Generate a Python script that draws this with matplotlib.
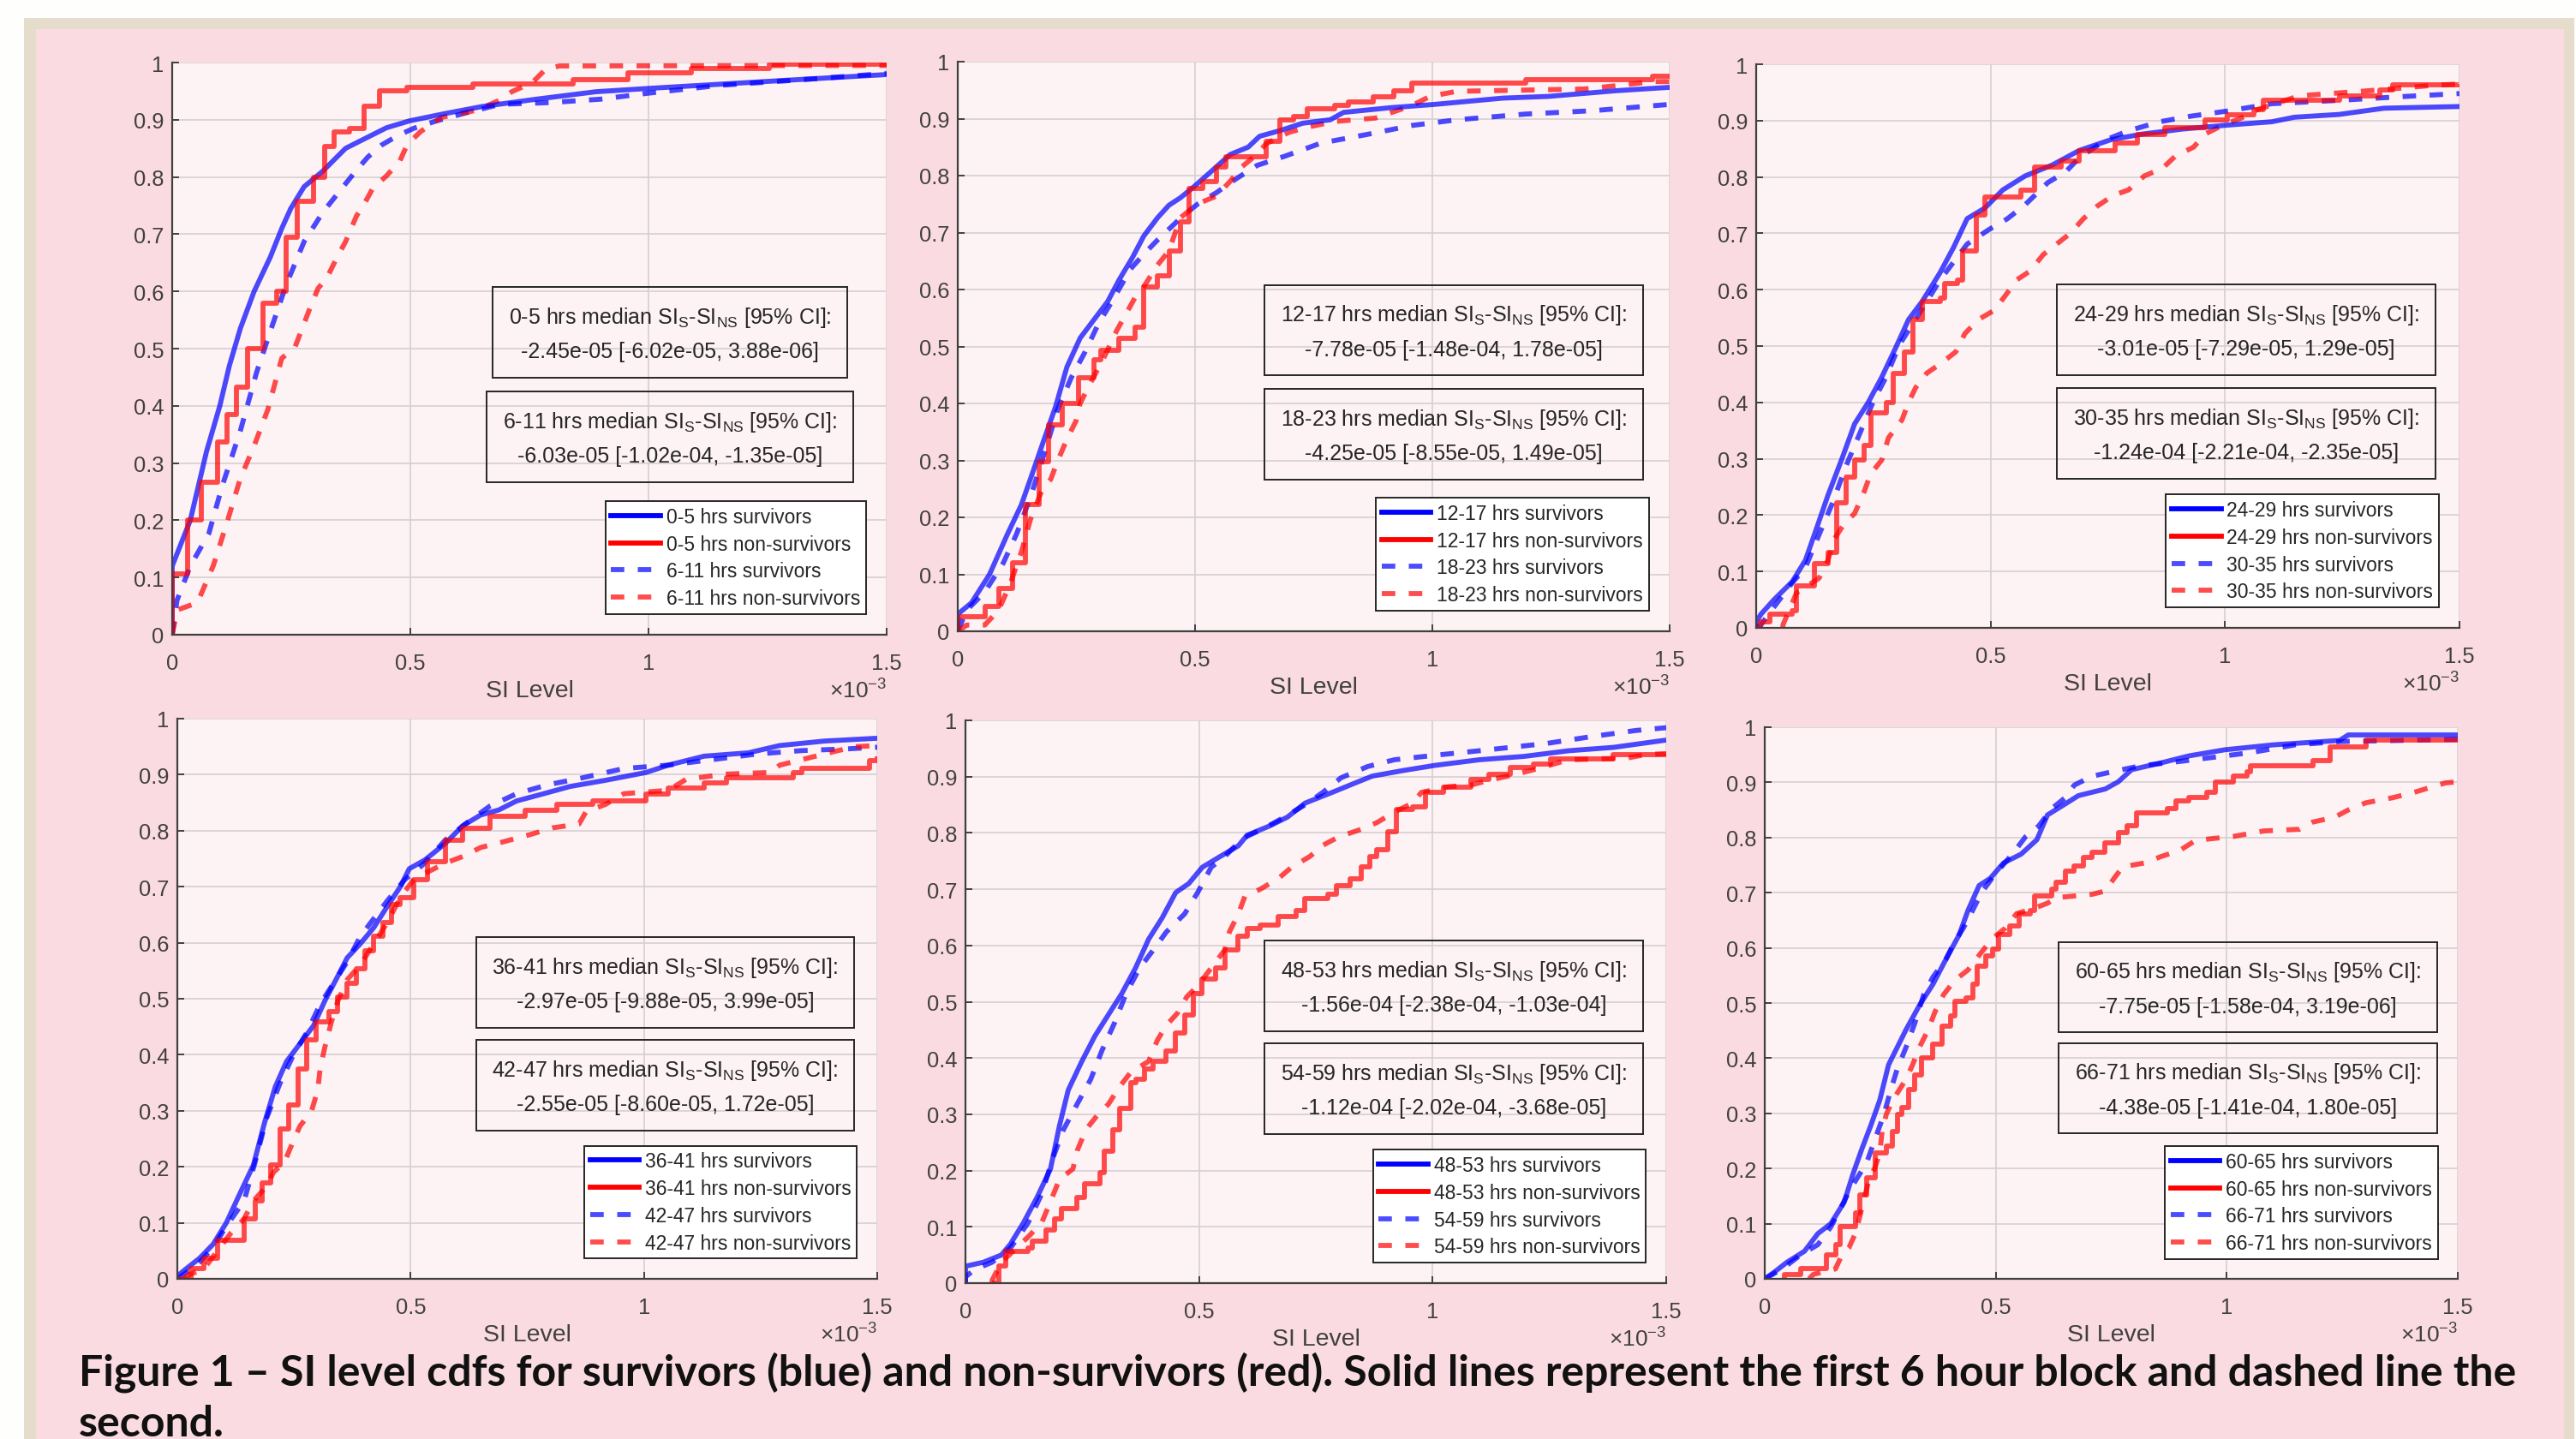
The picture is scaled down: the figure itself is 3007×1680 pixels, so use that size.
import matplotlib.pyplot as plt
from matplotlib.lines import Line2D
from matplotlib.patches import Rectangle

plt.rcParams['font.family'] = ['Liberation Sans', 'DejaVu Sans']
plt.rcParams['mathtext.fontset'] = 'custom'
plt.rcParams['mathtext.rm'] = 'Liberation Sans'
plt.rcParams['mathtext.it'] = 'Liberation Sans:italic'
plt.rcParams['mathtext.bf'] = 'Liberation Sans:bold'

# hour blocks shown in each panel (first block solid, second block dashed)
blocks = [("0-5", "6-11"), ("12-17", "18-23"), ("24-29", "30-35"),
          ("36-41", "42-47"), ("48-53", "54-59"), ("60-65", "66-71")]

# median SI_S - SI_NS [95% CI]
stat_first = ["-2.45e-05 [-6.02e-05, 3.88e-06]", "-7.78e-05 [-1.48e-04, 1.78e-05]",
              "-3.01e-05 [-7.29e-05, 1.29e-05]", "-2.97e-05 [-9.88e-05, 3.99e-05]",
              "-1.56e-04 [-2.38e-04, -1.03e-04]", "-7.75e-05 [-1.58e-04, 3.19e-06]"]
stat_second = ["-6.03e-05 [-1.02e-04, -1.35e-05]", "-4.25e-05 [-8.55e-05, 1.49e-05]",
               "-1.24e-04 [-2.21e-04, -2.35e-05]", "-2.55e-05 [-8.60e-05, 1.72e-05]",
               "-1.12e-04 [-2.02e-04, -3.68e-05]", "-4.38e-05 [-1.41e-04, 1.80e-05]"]

# cdf curves: (SI level x 1e-3, cumulative fraction)
p1_surv1 = [(0, 0), (0, 0.12), (0.038, 0.20), (0.072, 0.32), (0.10, 0.40), (0.12, 0.47), (0.143, 0.535),
            (0.172, 0.60), (0.206, 0.66), (0.23, 0.71), (0.249, 0.745), (0.277, 0.783), (0.316, 0.81),
            (0.364, 0.85), (0.402, 0.866), (0.45, 0.886), (0.498, 0.898), (0.574, 0.911), (0.65, 0.923),
            (0.765, 0.936), (0.89, 0.949), (1.005, 0.955), (1.148, 0.962), (1.29, 0.969), (1.5, 0.979)]
p1_nons1 = [(0, 0), (0, 0.107), (0.033, 0.20), (0.062, 0.267), (0.096, 0.337), (0.115, 0.385),
            (0.134, 0.432), (0.158, 0.50), (0.191, 0.58), (0.22, 0.60), (0.239, 0.694), (0.263, 0.758),
            (0.297, 0.80), (0.32, 0.853), (0.34, 0.879), (0.373, 0.885), (0.402, 0.923), (0.435, 0.951),
            (0.493, 0.957), (0.631, 0.962), (0.842, 0.97), (0.957, 0.982), (1.09, 0.99), (1.253, 0.997),
            (1.5, 0.997)]
p1_surv2 = [(0, 0), (0.01, 0.06), (0.038, 0.12), (0.077, 0.177), (0.105, 0.26), (0.143, 0.356),
            (0.177, 0.458), (0.21, 0.54), (0.239, 0.611), (0.277, 0.687), (0.316, 0.738), (0.359, 0.783),
            (0.387, 0.812), (0.411, 0.835), (0.44, 0.856), (0.473, 0.872), (0.507, 0.885), (0.555, 0.898),
            (0.612, 0.911), (0.689, 0.927), (0.794, 0.93), (0.9, 0.936), (0.995, 0.946), (1.148, 0.96),
            (1.339, 0.971), (1.5, 0.981)]
p1_nons2 = [(0, 0), (0.01, 0.043), (0.053, 0.056), (0.086, 0.12), (0.115, 0.196), (0.143, 0.273),
            (0.172, 0.33), (0.201, 0.394), (0.23, 0.483), (0.258, 0.503), (0.287, 0.566), (0.306, 0.605),
            (0.325, 0.624), (0.344, 0.656), (0.364, 0.687), (0.387, 0.732), (0.402, 0.751), (0.421, 0.78),
            (0.45, 0.802), (0.478, 0.828), (0.493, 0.856), (0.521, 0.879), (0.565, 0.904), (0.641, 0.917),
            (0.684, 0.933), (0.713, 0.949), (0.756, 0.965), (0.785, 0.989), (0.813, 0.994), (1.5, 0.995)]

p2_surv1 = [(0, 0), (0, 0.03), (0.029, 0.05), (0.067, 0.10), (0.105, 0.171), (0.134, 0.222), (0.158, 0.279),
            (0.182, 0.337), (0.206, 0.394), (0.23, 0.464), (0.258, 0.515), (0.287, 0.547), (0.316, 0.579),
            (0.34, 0.617), (0.368, 0.656), (0.392, 0.694), (0.421, 0.726), (0.445, 0.748), (0.469, 0.761),
            (0.497, 0.78), (0.531, 0.805), (0.574, 0.837), (0.612, 0.85), (0.636, 0.869), (0.679, 0.879),
            (0.727, 0.892), (0.785, 0.898), (0.813, 0.911), (0.909, 0.919), (1.005, 0.925), (1.148, 0.936),
            (1.244, 0.939), (1.387, 0.949), (1.5, 0.955)]
p2_nons1 = [(0, 0), (0, 0.025), (0.057, 0.043), (0.086, 0.075), (0.115, 0.12), (0.143, 0.222),
            (0.172, 0.298), (0.191, 0.362), (0.22, 0.40), (0.254, 0.445), (0.287, 0.477), (0.301, 0.493),
            (0.34, 0.515), (0.373, 0.534), (0.392, 0.605), (0.421, 0.624), (0.445, 0.668), (0.469, 0.719),
            (0.488, 0.777), (0.517, 0.79), (0.545, 0.815), (0.565, 0.833), (0.65, 0.86), (0.679, 0.898),
            (0.708, 0.904), (0.737, 0.917), (0.794, 0.923), (0.823, 0.93), (0.875, 0.939), (0.918, 0.949),
            (0.957, 0.962), (1.196, 0.969), (1.464, 0.974), (1.5, 0.974)]
p2_surv2 = [(0, 0), (0.019, 0.037), (0.057, 0.069), (0.096, 0.12), (0.124, 0.171), (0.153, 0.235),
            (0.182, 0.311), (0.21, 0.388), (0.239, 0.445), (0.268, 0.49), (0.297, 0.541), (0.325, 0.579),
            (0.364, 0.636), (0.392, 0.662), (0.421, 0.687), (0.45, 0.71), (0.478, 0.732), (0.507, 0.751),
            (0.545, 0.77), (0.584, 0.793), (0.631, 0.818), (0.689, 0.834), (0.765, 0.857), (0.861, 0.872),
            (0.957, 0.888), (1.052, 0.898), (1.196, 0.908), (1.339, 0.914), (1.5, 0.925)]
p2_nons2 = [(0, 0), (0.019, 0.011), (0.057, 0.011), (0.086, 0.037), (0.11, 0.082), (0.134, 0.139),
            (0.153, 0.196), (0.177, 0.247), (0.196, 0.267), (0.21, 0.298), (0.23, 0.337), (0.249, 0.369),
            (0.258, 0.40), (0.277, 0.432), (0.306, 0.477), (0.335, 0.528), (0.373, 0.585), (0.392, 0.605),
            (0.421, 0.643), (0.445, 0.668), (0.469, 0.726), (0.507, 0.751), (0.545, 0.764), (0.574, 0.79),
            (0.598, 0.815), (0.627, 0.835), (0.65, 0.856), (0.698, 0.876), (0.737, 0.885), (0.794, 0.895),
            (0.88, 0.901), (0.957, 0.923), (0.995, 0.939), (1.052, 0.948), (1.32, 0.952), (1.378, 0.957),
            (1.464, 0.965), (1.5, 0.965)]

p3_surv1 = [(0, 0), (0, 0.01), (0.01, 0.024), (0.038, 0.05), (0.077, 0.082), (0.105, 0.12), (0.129, 0.177),
            (0.153, 0.235), (0.182, 0.298), (0.21, 0.362), (0.239, 0.40), (0.268, 0.445), (0.297, 0.496),
            (0.325, 0.547), (0.354, 0.579), (0.392, 0.63), (0.421, 0.675), (0.45, 0.726), (0.488, 0.745),
            (0.526, 0.777), (0.574, 0.802), (0.631, 0.821), (0.689, 0.847), (0.756, 0.866), (0.823, 0.876),
            (0.909, 0.885), (1.005, 0.892), (1.1, 0.898), (1.148, 0.906), (1.244, 0.911), (1.339, 0.922),
            (1.5, 0.925)]
p3_nons1 = [(0, 0), (0.01, 0.011), (0.029, 0.024), (0.077, 0.03), (0.086, 0.075), (0.124, 0.114),
            (0.153, 0.133), (0.172, 0.222), (0.191, 0.267), (0.21, 0.298), (0.23, 0.324), (0.244, 0.381),
            (0.277, 0.40), (0.292, 0.452), (0.316, 0.49), (0.335, 0.547), (0.354, 0.579), (0.392, 0.585),
            (0.402, 0.611), (0.43, 0.617), (0.44, 0.668), (0.469, 0.732), (0.488, 0.764), (0.545, 0.764),
            (0.565, 0.777), (0.593, 0.818), (0.65, 0.828), (0.689, 0.847), (0.765, 0.86), (0.813, 0.876),
            (0.871, 0.888), (0.957, 0.901), (1.005, 0.911), (1.062, 0.92), (1.081, 0.936), (1.244, 0.944),
            (1.33, 0.955), (1.358, 0.963), (1.5, 0.965)]
p3_surv2 = [(0, 0), (0.01, 0.005), (0.038, 0.037), (0.077, 0.08), (0.105, 0.107), (0.134, 0.165),
            (0.163, 0.222), (0.191, 0.286), (0.22, 0.343), (0.249, 0.40), (0.277, 0.445), (0.306, 0.503),
            (0.335, 0.541), (0.364, 0.579), (0.392, 0.617), (0.421, 0.649), (0.45, 0.681), (0.497, 0.707),
            (0.536, 0.726), (0.574, 0.751), (0.622, 0.79), (0.66, 0.809), (0.689, 0.834), (0.746, 0.866),
            (0.794, 0.882), (0.861, 0.898), (0.928, 0.908), (1.005, 0.917), (1.1, 0.93), (1.244, 0.936),
            (1.387, 0.943), (1.5, 0.948)]
p3_nons2 = [(0.057, 0), (0.057, 0.005), (0.086, 0.062), (0.134, 0.088), (0.153, 0.12), (0.167, 0.158),
            (0.187, 0.184), (0.21, 0.203), (0.23, 0.241), (0.244, 0.273), (0.268, 0.298), (0.282, 0.337),
            (0.311, 0.369), (0.325, 0.40), (0.34, 0.426), (0.364, 0.452), (0.397, 0.471), (0.426, 0.49),
            (0.445, 0.522), (0.474, 0.547), (0.507, 0.563), (0.531, 0.589), (0.555, 0.617), (0.584, 0.633),
            (0.612, 0.662), (0.641, 0.681), (0.67, 0.70), (0.698, 0.726), (0.727, 0.748), (0.761, 0.767),
            (0.794, 0.777), (0.828, 0.802), (0.866, 0.815), (0.894, 0.837), (0.933, 0.853), (0.957, 0.876),
            (0.995, 0.892), (1.033, 0.904), (1.071, 0.92), (1.158, 0.944), (1.339, 0.955), (1.435, 0.962),
            (1.5, 0.965)]

p4_surv1 = [(0, 0), (0, 0.005), (0.019, 0.018), (0.048, 0.037), (0.077, 0.062), (0.105, 0.10),
            (0.134, 0.152), (0.163, 0.203), (0.187, 0.279), (0.21, 0.343), (0.234, 0.388), (0.263, 0.42),
            (0.292, 0.452), (0.316, 0.496), (0.34, 0.534), (0.364, 0.573), (0.392, 0.598), (0.421, 0.627),
            (0.45, 0.665), (0.478, 0.70), (0.497, 0.732), (0.531, 0.748), (0.574, 0.777), (0.612, 0.809),
            (0.65, 0.828), (0.689, 0.837), (0.727, 0.853), (0.785, 0.866), (0.842, 0.879), (0.918, 0.89),
            (1.005, 0.904), (1.052, 0.917), (1.129, 0.933), (1.224, 0.939), (1.291, 0.952), (1.387, 0.96),
            (1.5, 0.965)]
p4_nons1 = [(0, 0), (0.029, 0.018), (0.057, 0.037), (0.086, 0.069), (0.124, 0.069), (0.143, 0.107),
            (0.167, 0.139), (0.182, 0.171), (0.201, 0.203), (0.22, 0.267), (0.239, 0.311), (0.258, 0.375),
            (0.277, 0.426), (0.297, 0.458), (0.325, 0.477), (0.344, 0.503), (0.364, 0.528), (0.383, 0.554),
            (0.402, 0.585), (0.421, 0.611), (0.44, 0.636), (0.459, 0.668), (0.478, 0.681), (0.507, 0.713),
            (0.536, 0.745), (0.574, 0.783), (0.612, 0.805), (0.67, 0.825), (0.746, 0.837), (0.813, 0.847),
            (0.89, 0.853), (1.005, 0.866), (1.052, 0.876), (1.129, 0.885), (1.177, 0.895), (1.32, 0.904),
            (1.339, 0.911), (1.483, 0.925), (1.5, 0.933)]
p4_surv2 = [(0, 0), (0.019, 0.011), (0.048, 0.03), (0.077, 0.056), (0.105, 0.094), (0.143, 0.139),
            (0.167, 0.209), (0.191, 0.286), (0.22, 0.349), (0.249, 0.40), (0.277, 0.439), (0.306, 0.49),
            (0.335, 0.528), (0.364, 0.566), (0.392, 0.611), (0.421, 0.643), (0.45, 0.675), (0.488, 0.713),
            (0.526, 0.739), (0.574, 0.783), (0.622, 0.815), (0.67, 0.844), (0.727, 0.866), (0.794, 0.882),
            (0.861, 0.893), (0.957, 0.911), (1.052, 0.917), (1.148, 0.927), (1.244, 0.937), (1.339, 0.943),
            (1.435, 0.946), (1.5, 0.949)]
p4_nons2 = [(0.019, 0), (0.019, 0.005), (0.057, 0.018), (0.086, 0.05), (0.115, 0.082), (0.143, 0.107),
            (0.163, 0.139), (0.191, 0.165), (0.206, 0.19), (0.23, 0.209), (0.249, 0.247), (0.263, 0.273),
            (0.287, 0.298), (0.301, 0.337), (0.306, 0.375), (0.316, 0.413), (0.33, 0.458), (0.344, 0.496),
            (0.364, 0.534), (0.392, 0.56), (0.421, 0.598), (0.45, 0.636), (0.478, 0.681), (0.507, 0.713),
            (0.536, 0.726), (0.574, 0.742), (0.612, 0.754), (0.65, 0.77), (0.698, 0.78), (0.756, 0.793),
            (0.804, 0.805), (0.861, 0.812), (0.876, 0.834), (0.918, 0.847), (0.957, 0.866), (1.052, 0.872),
            (1.091, 0.892), (1.177, 0.901), (1.272, 0.904), (1.291, 0.917), (1.368, 0.933), (1.416, 0.943),
            (1.454, 0.95), (1.5, 0.952)]

p5_surv1 = [(0, 0), (0, 0.03), (0.038, 0.037), (0.077, 0.05), (0.096, 0.069), (0.124, 0.107),
            (0.153, 0.152), (0.182, 0.203), (0.201, 0.279), (0.22, 0.343), (0.249, 0.394), (0.277, 0.439),
            (0.306, 0.477), (0.335, 0.515), (0.364, 0.56), (0.392, 0.611), (0.421, 0.649), (0.45, 0.694),
            (0.478, 0.71), (0.507, 0.739), (0.545, 0.758), (0.584, 0.777), (0.603, 0.796), (0.65, 0.812),
            (0.689, 0.828), (0.727, 0.853), (0.785, 0.872), (0.832, 0.888), (0.871, 0.901), (0.938, 0.911),
            (1.005, 0.92), (1.1, 0.93), (1.196, 0.936), (1.291, 0.946), (1.387, 0.952), (1.5, 0.965)]
p5_nons1 = [(0.057, 0), (0.072, 0.03), (0.086, 0.056), (0.134, 0.062), (0.143, 0.075), (0.172, 0.094),
            (0.191, 0.114), (0.206, 0.133), (0.239, 0.152), (0.254, 0.177), (0.287, 0.196), (0.297, 0.235),
            (0.316, 0.273), (0.33, 0.311), (0.354, 0.356), (0.364, 0.362), (0.383, 0.381), (0.402, 0.394),
            (0.43, 0.413), (0.45, 0.445), (0.469, 0.477), (0.488, 0.515), (0.507, 0.541), (0.536, 0.56),
            (0.555, 0.592), (0.584, 0.617), (0.603, 0.63), (0.631, 0.636), (0.67, 0.652), (0.708, 0.662),
            (0.727, 0.684), (0.775, 0.691), (0.794, 0.707), (0.823, 0.719), (0.847, 0.739), (0.866, 0.758),
            (0.88, 0.77), (0.904, 0.802), (0.923, 0.841), (0.957, 0.847), (0.985, 0.872), (1.024, 0.882),
            (1.081, 0.895), (1.12, 0.904), (1.167, 0.917), (1.215, 0.923), (1.253, 0.931), (1.387, 0.939),
            (1.5, 0.941)]
p5_surv2 = [(0, 0), (0, 0.011), (0.019, 0.024), (0.057, 0.037), (0.096, 0.062), (0.134, 0.107),
            (0.163, 0.158), (0.187, 0.222), (0.21, 0.273), (0.239, 0.318), (0.268, 0.362), (0.292, 0.413),
            (0.32, 0.464), (0.344, 0.515), (0.373, 0.56), (0.402, 0.592), (0.43, 0.624), (0.469, 0.656),
            (0.497, 0.694), (0.526, 0.739), (0.555, 0.758), (0.593, 0.79), (0.641, 0.809), (0.689, 0.831),
            (0.727, 0.85), (0.765, 0.872), (0.804, 0.898), (0.861, 0.918), (0.918, 0.93), (1.005, 0.938),
            (1.1, 0.946), (1.244, 0.959), (1.339, 0.971), (1.435, 0.982), (1.5, 0.987)]
p5_nons2 = [(0.057, 0), (0.057, 0.005), (0.077, 0.037), (0.134, 0.082), (0.163, 0.107), (0.182, 0.145),
            (0.201, 0.184), (0.23, 0.203), (0.239, 0.235), (0.258, 0.273), (0.282, 0.298), (0.306, 0.318),
            (0.33, 0.349), (0.354, 0.375), (0.392, 0.394), (0.411, 0.432), (0.43, 0.458), (0.454, 0.48),
            (0.474, 0.509), (0.497, 0.528), (0.526, 0.56), (0.555, 0.592), (0.565, 0.624), (0.584, 0.656),
            (0.598, 0.687), (0.631, 0.70), (0.67, 0.719), (0.698, 0.739), (0.737, 0.758), (0.765, 0.778),
            (0.799, 0.793), (0.842, 0.805), (0.88, 0.818), (0.918, 0.837), (0.957, 0.853), (0.976, 0.872),
            (1.033, 0.882), (1.081, 0.885), (1.129, 0.895), (1.177, 0.904), (1.224, 0.914), (1.291, 0.93),
            (1.416, 0.933), (1.454, 0.939), (1.5, 0.941)]

p6_surv1 = [(0, 0), (0.019, 0.011), (0.048, 0.03), (0.086, 0.05), (0.115, 0.082), (0.143, 0.10),
            (0.172, 0.139), (0.191, 0.19), (0.21, 0.235), (0.23, 0.279), (0.249, 0.324), (0.268, 0.388),
            (0.287, 0.42), (0.306, 0.452), (0.335, 0.496), (0.364, 0.534), (0.392, 0.579), (0.421, 0.624),
            (0.44, 0.668), (0.464, 0.713), (0.488, 0.726), (0.517, 0.754), (0.555, 0.77), (0.589, 0.796),
            (0.612, 0.841), (0.641, 0.856), (0.679, 0.876), (0.737, 0.888), (0.765, 0.901), (0.794, 0.923),
            (0.861, 0.936), (0.918, 0.948), (0.995, 0.959), (1.1, 0.968), (1.244, 0.976), (1.263, 0.986),
            (1.5, 0.986)]
p6_nons1 = [(0.038, 0), (0.043, 0.008), (0.077, 0.018), (0.124, 0.018), (0.134, 0.043), (0.153, 0.062),
            (0.163, 0.094), (0.196, 0.12), (0.206, 0.152), (0.22, 0.184), (0.239, 0.228), (0.263, 0.241),
            (0.277, 0.267), (0.287, 0.298), (0.297, 0.311), (0.311, 0.343), (0.325, 0.369), (0.34, 0.40),
            (0.364, 0.426), (0.383, 0.458), (0.402, 0.477), (0.411, 0.503), (0.435, 0.509), (0.45, 0.534),
            (0.459, 0.566), (0.478, 0.585), (0.493, 0.598), (0.507, 0.624), (0.531, 0.64), (0.55, 0.662),
            (0.574, 0.668), (0.584, 0.694), (0.622, 0.707), (0.631, 0.719), (0.65, 0.739), (0.67, 0.748),
            (0.689, 0.764), (0.708, 0.774), (0.737, 0.79), (0.765, 0.809), (0.785, 0.821), (0.804, 0.844),
            (0.871, 0.853), (0.89, 0.866), (0.918, 0.872), (0.957, 0.882), (0.976, 0.901), (1.014, 0.911),
            (1.043, 0.92), (1.052, 0.93), (1.186, 0.939), (1.224, 0.965), (1.301, 0.976), (1.5, 0.976)]
p6_surv2 = [(0, 0), (0.038, 0.018), (0.077, 0.043), (0.115, 0.062), (0.143, 0.094), (0.163, 0.126),
            (0.182, 0.158), (0.201, 0.184), (0.22, 0.209), (0.239, 0.254), (0.258, 0.298), (0.273, 0.343),
            (0.287, 0.381), (0.306, 0.42), (0.325, 0.464), (0.344, 0.515), (0.364, 0.547), (0.392, 0.579),
            (0.411, 0.611), (0.43, 0.636), (0.45, 0.668), (0.469, 0.70), (0.497, 0.732), (0.536, 0.77),
            (0.565, 0.802), (0.593, 0.821), (0.622, 0.853), (0.65, 0.872), (0.67, 0.895), (0.708, 0.911),
            (0.756, 0.92), (0.813, 0.93), (0.899, 0.938), (0.957, 0.944), (1.052, 0.954), (1.148, 0.968),
            (1.244, 0.974), (1.5, 0.978)]
p6_nons2 = [(0.096, 0), (0.105, 0.008), (0.153, 0.018), (0.167, 0.043), (0.182, 0.056), (0.196, 0.082),
            (0.206, 0.114), (0.215, 0.145), (0.225, 0.177), (0.239, 0.203), (0.249, 0.228), (0.254, 0.267),
            (0.263, 0.298), (0.277, 0.324), (0.287, 0.337), (0.306, 0.362), (0.32, 0.388), (0.335, 0.42),
            (0.354, 0.452), (0.368, 0.483), (0.387, 0.515), (0.411, 0.541), (0.44, 0.56), (0.469, 0.592),
            (0.493, 0.617), (0.521, 0.636), (0.545, 0.662), (0.584, 0.672), (0.612, 0.681), (0.631, 0.691),
            (0.708, 0.697), (0.737, 0.703), (0.756, 0.726), (0.775, 0.747), (0.823, 0.754), (0.856, 0.765),
            (0.899, 0.777), (0.933, 0.795), (1.014, 0.802), (1.081, 0.812), (1.158, 0.815), (1.186, 0.828),
            (1.234, 0.837), (1.263, 0.85), (1.301, 0.863), (1.358, 0.872), (1.406, 0.882), (1.445, 0.892),
            (1.473, 0.899), (1.5, 0.901)]

panels = [(p1_surv1, p1_nons1, p1_surv2, p1_nons2), (p2_surv1, p2_nons1, p2_surv2, p2_nons2),
          (p3_surv1, p3_nons1, p3_surv2, p3_nons2), (p4_surv1, p4_nons1, p4_surv2, p4_nons2),
          (p5_surv1, p5_nons1, p5_surv2, p5_nons2), (p6_surv1, p6_nons1, p6_surv2, p6_nons2)]

caption1 = ("Figure 1 \u2013 SI level cdfs for survivors (blue) and non-survivors (red). "
            "Solid lines represent the first 6 hour block and dashed line the")
caption2 = "second."

# ---- layout (pixel boxes of the original poster) ----
W, H = 3007, 1681
ax_px = [(201, 74, 1035, 742), (1118, 73, 1949, 738), (2050, 76, 2871, 734),
         (207, 840, 1024, 1494), (1127, 842, 1945, 1499), (2060, 850, 2869, 1494)]

BLUE, RED = '#0000ff', '#ff0000'
TXT = '#262626'
LW = 4.2

fig = plt.figure(figsize=(W / 100, H / 100), dpi=100, facecolor='#fefefd')
fig.add_artist(Rectangle((28 / W, 0), (3005 - 28) / W, 1 - 22 / H, transform=fig.transFigure,
                         facecolor='#e6dccb', edgecolor='none', zorder=0))
fig.add_artist(Rectangle((42 / W, 0), (2993 - 42) / W, 1 - 35 / H, transform=fig.transFigure,
                         facecolor='#fbdbe2', edgecolor='none', zorder=0))

for i, (l, t, r, b) in enumerate(ax_px):
    ax = fig.add_axes([l / W, 1 - b / H, (r - l) / W, (b - t) / H])
    ax.set_facecolor('#fdf2f4')
    surv1, nons1, surv2, nons2 = panels[i]
    first, second = blocks[i]

    # solid = first block, dashed = second; the first-block red cdf is drawn as steps
    for pts, col, dashed, step in [(surv2, BLUE, True, False), (nons2, RED, True, False),
                                   (surv1, BLUE, False, False), (nons1, RED, False, True)]:
        xs = [p[0] for p in pts]
        ys = [p[1] for p in pts]
        ln, = ax.plot(xs, ys, color=col, lw=LW, alpha=0.7,
                      drawstyle='steps-post' if step else 'default', solid_capstyle='butt')
        if dashed:
            ln.set_dashes((2.7, 2.7))

    ax.set_xlim(0, 1.5)
    ax.set_ylim(0, 1)
    ax.set_xticks([0, 0.5, 1, 1.5])
    ax.set_xticklabels(['0', '0.5', '1', '1.5'])
    ax.set_yticks([k / 10 for k in range(11)])
    ax.set_yticklabels(['0'] + ['0.%d' % k for k in range(1, 10)] + ['1'])
    ax.grid(True, color='#d6d0d2', lw=1.2)
    ax.set_axisbelow(True)
    for s in ['top', 'right']:
        ax.spines[s].set_visible(False)
    for s in ['left', 'bottom']:
        ax.spines[s].set_color('#404040')
        ax.spines[s].set_linewidth(1.6)
    ax.tick_params(direction='in', length=6, width=1.4, color='#404040',
                   labelcolor='#404040', labelsize=18.4)
    ax.tick_params(axis='x', pad=15)
    ax.tick_params(axis='y', pad=7)

    ax.annotate('SI Level', xy=(0.5, 0), xycoords='axes fraction', xytext=(0, -47),
                textcoords='offset points', ha='center', va='center', fontsize=20.5, color='#404040')
    ax.annotate(r'$\times\mathregular{10^{-3}}$', xy=(1, 0), xycoords='axes fraction',
                xytext=(0, -47), textcoords='offset points', ha='right', va='center',
                fontsize=19, color='#404040')

    box = dict(boxstyle='square,pad=0.75', facecolor='none', edgecolor=TXT, linewidth=1.4)
    for yc, blk, st in [(0.527, first, stat_first[i]), (0.344, second, stat_second[i])]:
        ax.text(0.697, yc, blk + r' hrs median SI$_\mathregular{S}$-SI$_\mathregular{NS}$ [95% CI]:' + '\n' + st,
                transform=ax.transAxes, ha='center', va='center', fontsize=18, color=TXT,
                linespacing=1.75, bbox=box, zorder=5)

    handles = [Line2D([], [], color=BLUE, lw=LW),
               Line2D([], [], color=RED, lw=LW),
               Line2D([], [], color=BLUE, lw=LW, alpha=0.7, dashes=(2.7, 2.7)),
               Line2D([], [], color=RED, lw=LW, alpha=0.7, dashes=(2.7, 2.7))]
    labels = [first + ' hrs survivors', first + ' hrs non-survivors',
              second + ' hrs survivors', second + ' hrs non-survivors']
    leg = ax.legend(handles, labels, loc='lower right', bbox_to_anchor=(0.971, 0.036),
                    fontsize=16.5, fancybox=False, framealpha=1, facecolor='white',
                    edgecolor=TXT, handlelength=2.5, handletextpad=0.3, labelspacing=0.38,
                    borderpad=0.3, borderaxespad=0)
    leg.get_frame().set_linewidth(1.4)
    leg.set_zorder(6)
    for tx in leg.get_texts():
        tx.set_color(TXT)

fig.text(92 / W, 1 - 1602 / H, caption1, fontsize=36, fontweight='bold', family='Lato',
         ha='left', va='center', color='#111111')
fig.text(92 / W, 1 - 1663 / H, caption2, fontsize=36, fontweight='bold', family='Lato',
         ha='left', va='center', color='#111111')

fig.savefig('out.png', dpi=100, facecolor=fig.get_facecolor())
